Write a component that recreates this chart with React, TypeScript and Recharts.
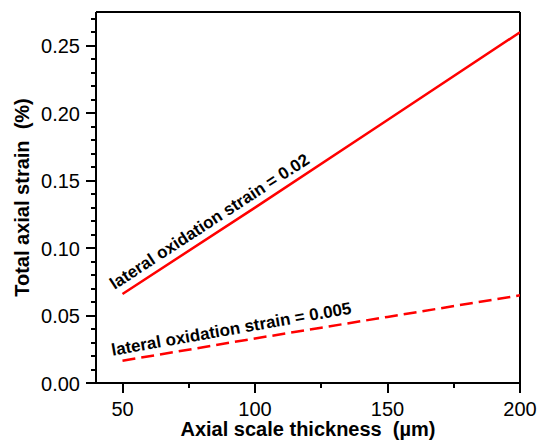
import { LineChart, Line, XAxis, YAxis, ReferenceLine, LabelList, Customized } from "recharts";

const thickness = [50, 100, 150, 200];
const strainLateral002 = [0.066, 0.13, 0.195, 0.26];
const strainLateral0005 = [0.0165, 0.033, 0.049, 0.065];

const xMajor = [50, 100, 150, 200];
const xMinor = [75, 125, 175];
const yMajor = [0, 0.05, 0.1, 0.15, 0.2, 0.25];
const yMinor = [
  0.01, 0.02, 0.03, 0.04, 0.06, 0.07, 0.08, 0.09, 0.11, 0.12, 0.13, 0.14,
  0.16, 0.17, 0.18, 0.19, 0.21, 0.22, 0.23, 0.24, 0.26, 0.27,
];

const data = thickness.map((t, i) => ({
  t,
  high: strainLateral002[i],
  low: strainLateral0005[i],
}));

const FONT = '"Liberation Sans", Arial, sans-serif';
const RED = "#ff0000";

const isMajor = (list: number[], v: number) => list.some((m) => Math.abs(m - v) < 1e-9);

function XTick(props: any) {
  const { x, y, payload } = props;
  const major = isMajor(xMajor, payload.value);
  const px = Math.round(x);
  return (
    <g>
      <line x1={px} y1={y} x2={px} y2={y + (major ? 10 : 5)} stroke="#000" strokeWidth={2} shapeRendering="crispEdges" />
      {major && (
        <text x={x} y={y + 33} textAnchor="middle" fontSize={20} fontFamily={FONT} fill="#000">
          {payload.value}
        </text>
      )}
    </g>
  );
}

function YTick(props: any) {
  const { x, y, payload } = props;
  const major = isMajor(yMajor, payload.value);
  const py = Math.round(y);
  return (
    <g>
      <line x1={x} y1={py} x2={x - (major ? 10 : 5)} y2={py} stroke="#000" strokeWidth={2} shapeRendering="crispEdges" />
      {major && (
        <text x={x - 16} y={y + 7.5} textAnchor="end" fontSize={20} fontFamily={FONT} fill="#000">
          {payload.value.toFixed(2)}
        </text>
      )}
    </g>
  );
}

function lineLabel(text: string, angle: number, dx: number, dy: number) {
  return (props: any) => {
    if (props.index !== 0) return null;
    const tx = props.x + dx;
    const ty = props.y + dy;
    return (
      <text
        x={tx}
        y={ty}
        transform={`rotate(${angle}, ${tx}, ${ty})`}
        fontSize={17}
        fontWeight="bold"
        fontFamily={FONT}
        fill="#000"
      >
        {text}
      </text>
    );
  };
}

function Titles() {
  return (
    <g fontFamily={FONT} fontWeight="bold" fontSize={20} fill="#000">
      <text x={308} y={436} textAnchor="middle" style={{ whiteSpace: "pre" }}>
        {"Axial scale thickness  (µm)"}
      </text>
      <text
        x={29}
        y={197.5}
        textAnchor="middle"
        transform="rotate(-90, 29, 197.5)"
        style={{ whiteSpace: "pre" }}
      >
        {"Total axial strain  (%)"}
      </text>
    </g>
  );
}

const frame = { stroke: "#000", strokeWidth: 2, shapeRendering: "crispEdges" as const };

export default function App() {
  return (
    <div style={{ position: "absolute", left: 0, top: 0, background: "#fff" }}>
      <LineChart width={537} height={448} data={data} margin={{ top: 12, right: 17, left: 0, bottom: 0 }}>
        <XAxis
          dataKey="t"
          type="number"
          domain={[40, 200]}
          ticks={[...xMajor, ...xMinor].sort((a, b) => a - b)}
          interval={0}
          height={65}
          tickSize={0}
          tickMargin={0}
          tickLine={false}
          axisLine={frame}
          tick={<XTick />}
          allowDataOverflow
        />
        <YAxis
          type="number"
          domain={[0, 0.275]}
          ticks={[...yMajor, ...yMinor].sort((a, b) => a - b)}
          interval={0}
          width={96}
          tickSize={0}
          tickMargin={0}
          tickLine={false}
          axisLine={frame}
          tick={<YTick />}
          allowDataOverflow
        />
        <ReferenceLine y={0.275} {...frame} ifOverflow="visible" />
        <ReferenceLine x={200} {...frame} ifOverflow="visible" />
        <Line
          dataKey="high"
          stroke={RED}
          strokeWidth={2.5}
          dot={false}
          isAnimationActive={false}
        >
          <LabelList dataKey="high" content={lineLabel("lateral oxidation strain = 0.02", -33, -8, -4)} />
        </Line>
        <Line
          dataKey="low"
          stroke={RED}
          strokeWidth={2.5}
          strokeDasharray="13 6"
          dot={false}
          isAnimationActive={false}
        >
          <LabelList dataKey="low" content={lineLabel("lateral oxidation strain = 0.005", -10, -10, -5)} />
        </Line>
        <Customized component={Titles} />
      </LineChart>
    </div>
  );
}
